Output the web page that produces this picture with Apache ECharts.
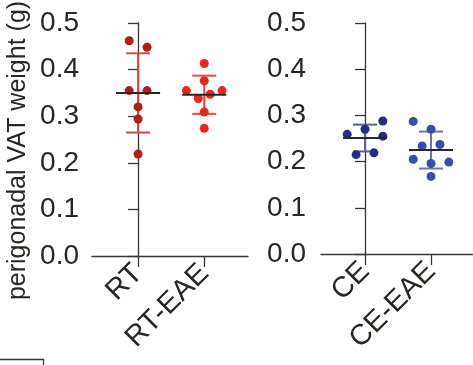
<!DOCTYPE html>
<html>
<head>
<meta charset="utf-8">
<script src="https://cdn.jsdelivr.net/npm/echarts@6/dist/echarts.min.js"></script>
<style>
  html, body { margin: 0; padding: 0; background: #fff; }
  #chart { width: 473px; height: 365px; }
</style>
</head>
<body>
<div id="chart"></div>
<script>
// groups per panel
const leftGroups = ['RT', 'RT-EAE']
const rightGroups = ['CE', 'CE-EAE']
const yTicks = [0, 0.1, 0.2, 0.3, 0.4, 0.5]

// individual animals (g), x = horizontal scatter offset from the group centre
const rtVals = [0.462, 0.448, 0.355, 0.355, 0.320, 0.294, 0.219]
const rtX = [-0.135, 0.135, -0.135, 0.135, 0, 0, 0]
const rtEaeVals = [0.413, 0.376, 0.355, 0.355, 0.338, 0.347, 0.309, 0.274]
const rtEaeX = [0, 0, -0.27, 0.27, -0.09, 0.09, 0, 0]
const ceVals = [0.259, 0.270, 0.288, 0.255, 0.215, 0.219]
const ceX = [-0.27, 0, 0.27, 0.27, -0.135, 0.135]
const ceEaeVals = [0.287, 0.270, 0.234, 0.237, 0.205, 0.196, 0.199, 0.168]
const ceEaeX = [-0.27, 0, -0.135, 0.135, -0.27, 0, 0.27, 0]

// mean and SD
const rtStats = [0.350, 0.085]
const rtEaeStats = [0.346, 0.041]
const ceStats = [0.251, 0.029]
const ceEaeStats = [0.225, 0.040]

const colors = {
  rt: '#ae1f1c', rtEae: '#e32a1f', ce: '#282c7c', ceEae: '#3a4da8',
  rtBar: '#c94a46', rtEaeBar: '#e8473e', ceBar: '#5b5fa2', ceEaeBar: '#6474bd'
}
const ink = '#2a2622'
const font = 'Liberation Sans, Arial, Helvetica, sans-serif'

const pts = (xs, vals, g) => vals.map((v, i) => [g + xs[i], v])

const chart = echarts.init(document.getElementById('chart'))

const xAxisBase = (names, min, max) => ({
  type: 'value',
  min: min,
  max: max,
  splitLine: { show: false },
  axisLine: { show: true, lineStyle: { color: '#3b3631', width: 1.3 } },
  axisTick: { show: true, length: 11, customValues: [0, 1], lineStyle: { color: '#3b3631', width: 1.3 } },
  axisLabel: {
    customValues: [0, 1],
    rotate: 45,
    margin: 13,
    fontSize: 29,
    fontFamily: font,
    color: ink,
    formatter: v => names[Math.round(v)]
  }
})

const yAxisBase = (margin) => ({
  type: 'value',
  min: 0,
  max: 0.5,
  interval: 0.1,
  splitLine: { show: false },
  axisLine: { show: true, lineStyle: { color: '#3b3631', width: 1.3 } },
  axisTick: { show: true, length: 10, lineStyle: { color: '#3b3631', width: 1.3 } },
  axisLabel: {
    margin: margin,
    fontSize: 28,
    fontFamily: font,
    color: ink,
    formatter: v => v.toFixed(1)
  }
})

// vertical SD bar with caps
function sdBar(params, api) {
  const x = api.value(0), m = api.value(1), s = api.value(2)
  const top = api.coord([x, m + s])
  const bot = api.coord([x, m - s])
  const c = api.visual('color')
  const st = { stroke: c, lineWidth: 2 }
  return {
    type: 'group',
    children: [
      { type: 'line', shape: { x1: top[0], y1: top[1], x2: bot[0], y2: bot[1] }, style: st },
      { type: 'line', shape: { x1: top[0] - 12, y1: top[1], x2: top[0] + 12, y2: top[1] }, style: st },
      { type: 'line', shape: { x1: bot[0] - 12, y1: bot[1], x2: bot[0] + 12, y2: bot[1] }, style: st }
    ]
  }
}
// mean line
function meanLine(params, api) {
  const p = api.coord([api.value(0), api.value(1)])
  return {
    type: 'line',
    shape: { x1: p[0] - 22, y1: p[1], x2: p[0] + 22, y2: p[1] },
    style: { stroke: '#2b2622', lineWidth: 2 }
  }
}

const statData = (a, b, ca, cb) => [
  { value: [0, a[0], a[1]], itemStyle: { color: ca } },
  { value: [1, b[0], b[1]], itemStyle: { color: cb } }
]

const scatter = (idx, data, color) => ({
  type: 'scatter', xAxisIndex: idx, yAxisIndex: idx, data: data,
  symbolSize: 9, itemStyle: { color: color, opacity: 1 }, z: 2, silent: true
})

const option = {
  animation: false,
  backgroundColor: '#fff',
  grid: [
    { left: 92, top: 23, width: 156, height: 233, outerBoundsMode: 'none', containLabel: false },
    { left: 321, top: 23, width: 152, height: 231, outerBoundsMode: 'none', containLabel: false }
  ],
  xAxis: [
    Object.assign(xAxisBase(leftGroups, -0.697, 1.662), { gridIndex: 0 }),
    Object.assign(xAxisBase(rightGroups, -0.667, 1.636), { gridIndex: 1 })
  ],
  yAxis: [
    Object.assign(yAxisBase(13), {
      gridIndex: 0,
      name: 'perigonadal VAT weight (g)',
      nameLocation: 'middle',
      nameGap: 61,
      nameTextStyle: { fontSize: 25, fontFamily: font, color: ink, padding: [0, 22, 0, 0] }
    }),
    Object.assign(yAxisBase(15), { gridIndex: 1 })
  ],
  series: [
    { type: 'custom', xAxisIndex: 0, yAxisIndex: 0, renderItem: sdBar, z: 1, silent: true,
      data: statData(rtStats, rtEaeStats, colors.rtBar, colors.rtEaeBar) },
    { type: 'custom', xAxisIndex: 1, yAxisIndex: 1, renderItem: sdBar, z: 1, silent: true,
      data: statData(ceStats, ceEaeStats, colors.ceBar, colors.ceEaeBar) },
    scatter(0, pts(rtX, rtVals, 0), colors.rt),
    scatter(0, pts(rtEaeX, rtEaeVals, 1), colors.rtEae),
    scatter(1, pts(ceX, ceVals, 0), colors.ce),
    scatter(1, pts(ceEaeX, ceEaeVals, 1), colors.ceEae),
    { type: 'custom', xAxisIndex: 0, yAxisIndex: 0, renderItem: meanLine, z: 3, silent: true,
      data: statData(rtStats, rtEaeStats, '#000', '#000') },
    { type: 'custom', xAxisIndex: 1, yAxisIndex: 1, renderItem: meanLine, z: 3, silent: true,
      data: statData(ceStats, ceEaeStats, '#000', '#000') }
  ],
  graphic: [
    // corner of the neighbouring panel, cut by the crop
    { type: 'polyline', shape: { points: [[0, 359.5], [43.5, 359.5], [43.5, 366]] },
      style: { stroke: '#3b3631', lineWidth: 1.3, fill: null } }
  ]
}

chart.setOption(option)
</script>
</body>
</html>
